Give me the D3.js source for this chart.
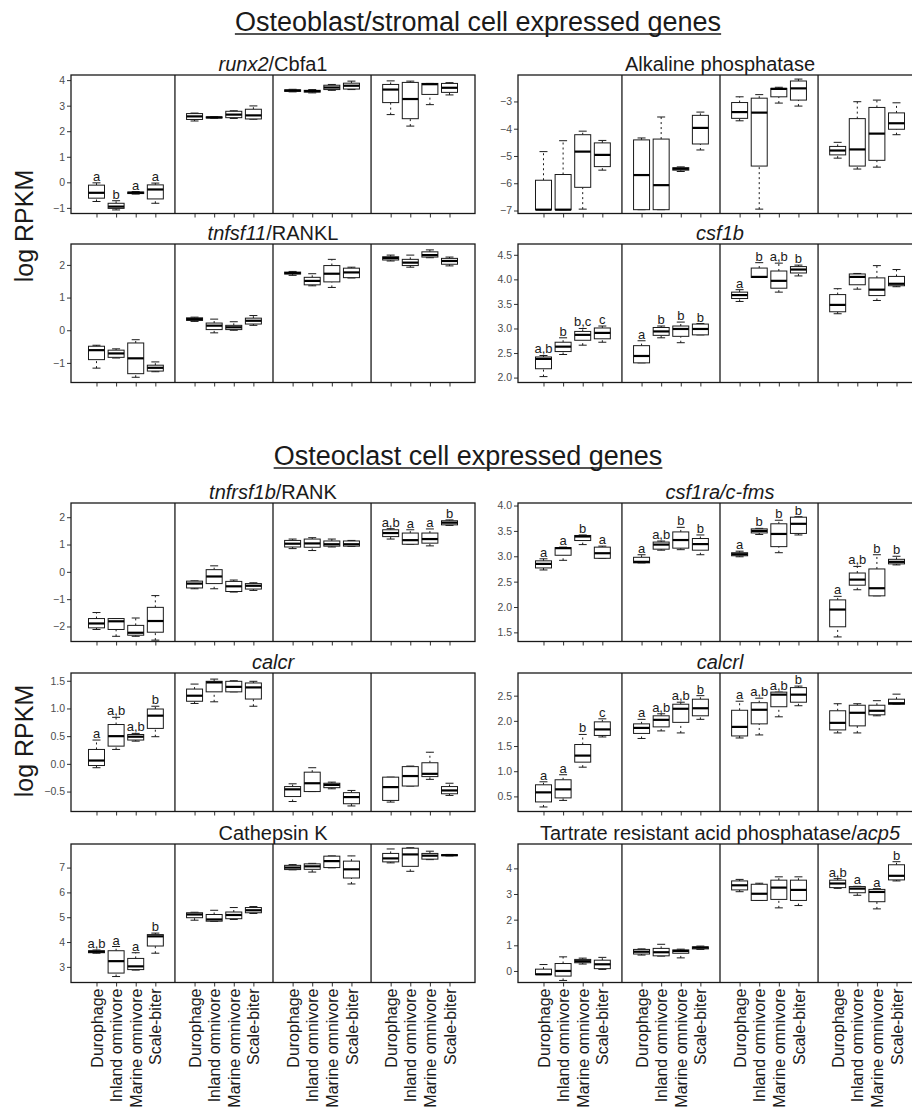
<!DOCTYPE html>
<html>
<head>
<meta charset="utf-8">
<script src="https://cdn.jsdelivr.net/npm/d3@7"></script>
<style>
  body { margin: 0; background: #fff; }
  svg { font-family: "Liberation Sans", Arial, Helvetica, sans-serif; }
</style>
</head>
<body>
<svg id="chart" width="912" height="1110"></svg>
<script>
// groups on the x axis, repeated in each of the 4 facets
const groups = ["Durophage", "Inland omnivore", "Marine omnivore", "Scale-biter"];

// each box: [lower whisker, q1, median, q3, upper whisker], 4 facets x 4 groups
const runx2 = [
  [-0.75, -0.62, -0.41, -0.11, -0.02], [-1.08, -1.02, -0.95, -0.82, -0.72], [-0.46, -0.44, -0.41, -0.38, -0.36], [-0.82, -0.65, -0.28, -0.10, -0.03],
  [2.40, 2.46, 2.58, 2.69, 2.71], [2.51, 2.52, 2.54, 2.56, 2.57], [2.50, 2.53, 2.65, 2.78, 2.80], [2.47, 2.48, 2.62, 2.86, 2.99],
  [3.54, 3.56, 3.59, 3.62, 3.64], [3.50, 3.53, 3.57, 3.60, 3.63], [3.60, 3.63, 3.71, 3.80, 3.83], [3.63, 3.65, 3.78, 3.88, 3.96],
  [2.65, 3.12, 3.63, 3.83, 3.97], [2.20, 2.49, 3.26, 3.91, 3.96], [3.04, 3.44, 3.84, 3.87, 3.87], [3.42, 3.52, 3.70, 3.87, 3.90]
];
const runx2Letters = ["a", "b", "a", "a", "", "", "", "", "", "", "", "", "", "", "", ""];

const alp = [
  [-6.97, -6.97, -6.97, -5.89, -4.84], [-6.97, -6.97, -6.97, -5.68, -4.44], [-6.95, -6.15, -4.84, -4.22, -4.09], [-5.52, -5.39, -4.96, -4.52, -4.43],
  [-6.97, -6.97, -5.70, -4.41, -4.34], [-6.97, -6.97, -6.07, -4.38, -3.57], [-5.57, -5.52, -5.47, -5.43, -5.40], [-4.78, -4.56, -3.97, -3.51, -3.39],
  [-3.71, -3.62, -3.39, -3.04, -2.83], [-6.95, -5.37, -3.41, -2.88, -2.75], [-3.06, -2.83, -2.54, -2.52, -2.48], [-3.17, -2.95, -2.52, -2.25, -2.18],
  [-5.08, -4.96, -4.80, -4.65, -4.50], [-5.48, -5.37, -4.76, -3.63, -3.01], [-5.41, -5.16, -4.18, -3.22, -2.95], [-4.22, -4.02, -3.80, -3.42, -3.05]
];
const alpLetters = ["", "", "", "", "", "", "", "", "", "", "", "", "", "", "", ""];

const tnfsf11 = [
  [-1.16, -0.90, -0.61, -0.49, -0.46], [-0.85, -0.83, -0.71, -0.61, -0.57], [-1.44, -1.33, -0.86, -0.39, -0.29], [-1.27, -1.25, -1.15, -1.07, -0.97],
  [0.27, 0.30, 0.34, 0.38, 0.40], [-0.08, 0.02, 0.14, 0.22, 0.34], [0.00, 0.02, 0.09, 0.15, 0.26], [0.15, 0.19, 0.29, 0.37, 0.45],
  [1.68, 1.72, 1.75, 1.78, 1.80], [1.36, 1.39, 1.51, 1.62, 1.73], [1.31, 1.48, 1.73, 1.98, 2.17], [1.60, 1.61, 1.77, 1.90, 1.93],
  [2.12, 2.15, 2.21, 2.25, 2.30], [1.93, 1.98, 2.07, 2.17, 2.30], [2.22, 2.24, 2.30, 2.40, 2.46], [1.97, 2.02, 2.12, 2.20, 2.24]
];
const tnfsf11Letters = ["", "", "", "", "", "", "", "", "", "", "", "", "", "", "", ""];

const csf1b = [
  [2.02, 2.18, 2.38, 2.42, 2.45], [2.47, 2.53, 2.63, 2.72, 2.81], [2.66, 2.76, 2.87, 2.94, 3.00], [2.72, 2.79, 2.91, 3.01, 3.05],
  [2.30, 2.30, 2.44, 2.65, 2.75], [2.81, 2.86, 2.94, 3.02, 3.05], [2.71, 2.84, 2.99, 3.05, 3.13], [2.87, 2.87, 2.99, 3.09, 3.10],
  [3.55, 3.61, 3.68, 3.74, 3.79], [4.04, 4.04, 4.05, 4.23, 4.34], [3.74, 3.82, 3.97, 4.17, 4.33], [4.07, 4.13, 4.20, 4.26, 4.29],
  [3.30, 3.34, 3.48, 3.69, 3.81], [3.80, 3.89, 4.05, 4.11, 4.12], [3.57, 3.67, 3.79, 4.03, 4.28], [3.85, 3.87, 3.91, 4.06, 4.20]
];
const csf1bLetters = ["a,b", "b", "b,c", "c", "a", "b", "b", "b", "a", "b", "a,b", "b", "", "", "", ""];

const tnfrsf1b = [
  [-2.11, -2.05, -1.89, -1.71, -1.49], [-2.36, -2.11, -1.81, -1.71, -1.71], [-2.36, -2.32, -2.23, -1.96, -1.69], [-2.50, -2.21, -1.80, -1.30, -0.87],
  [-0.62, -0.59, -0.43, -0.34, -0.33], [-0.62, -0.43, -0.17, 0.08, 0.22], [-0.74, -0.72, -0.53, -0.35, -0.30], [-0.68, -0.63, -0.51, -0.43, -0.40],
  [0.85, 0.91, 1.03, 1.15, 1.20], [0.78, 0.90, 1.04, 1.20, 1.25], [0.91, 0.94, 1.01, 1.13, 1.20], [0.93, 0.94, 1.01, 1.13, 1.15],
  [1.20, 1.29, 1.42, 1.54, 1.58], [1.01, 1.01, 1.16, 1.42, 1.54], [0.95, 1.05, 1.20, 1.42, 1.57], [1.70, 1.72, 1.80, 1.87, 1.90]
];
const tnfrsf1bLetters = ["", "", "", "", "", "", "", "", "", "", "", "", "a,b", "a", "a", "b"];

const csf1ra = [
  [2.73, 2.77, 2.85, 2.91, 2.95], [2.92, 3.02, 3.16, 3.17, 3.18], [3.23, 3.31, 3.39, 3.41, 3.42], [2.96, 2.96, 3.06, 3.18, 3.20],
  [2.87, 2.87, 2.89, 2.98, 3.03], [3.12, 3.14, 3.23, 3.28, 3.30], [3.13, 3.16, 3.32, 3.48, 3.57], [3.03, 3.12, 3.24, 3.35, 3.42],
  [2.99, 3.01, 3.04, 3.07, 3.10], [3.43, 3.46, 3.50, 3.54, 3.55], [3.07, 3.19, 3.44, 3.64, 3.71], [3.42, 3.45, 3.64, 3.77, 3.78],
  [1.41, 1.61, 1.95, 2.14, 2.21], [2.34, 2.43, 2.54, 2.67, 2.80], [2.22, 2.22, 2.37, 2.75, 3.03], [2.83, 2.85, 2.89, 2.94, 3.00]
];
const csf1raLetters = ["a", "a", "b", "a", "a", "a,b", "b", "b", "a", "b", "b", "b", "a", "a,b", "b", "b"];

const calcr = [
  [-0.07, -0.03, 0.06, 0.26, 0.43], [0.26, 0.32, 0.50, 0.71, 0.84], [0.41, 0.43, 0.49, 0.53, 0.55], [0.49, 0.64, 0.87, 0.99, 1.04],
  [1.09, 1.13, 1.23, 1.35, 1.44], [1.12, 1.30, 1.47, 1.49, 1.53], [1.30, 1.30, 1.39, 1.49, 1.50], [1.04, 1.17, 1.38, 1.46, 1.49],
  [-0.68, -0.59, -0.46, -0.41, -0.36], [-0.50, -0.50, -0.35, -0.15, -0.07], [-0.45, -0.43, -0.38, -0.35, -0.33], [-0.76, -0.72, -0.60, -0.52, -0.48],
  [-0.69, -0.66, -0.42, -0.24, -0.24], [-0.40, -0.40, -0.22, -0.05, -0.04], [-0.28, -0.23, -0.18, 0.02, 0.21], [-0.57, -0.54, -0.48, -0.41, -0.35]
];
const calcrLetters = ["a", "a,b", "a,b", "b", "", "", "", "", "", "", "", "", "", "", "", ""];

const calcrl = [
  [0.29, 0.39, 0.58, 0.73, 0.79], [0.42, 0.47, 0.64, 0.83, 0.93], [1.08, 1.18, 1.31, 1.53, 1.73], [1.68, 1.71, 1.83, 1.98, 2.04],
  [1.65, 1.75, 1.86, 1.94, 2.03], [1.80, 1.88, 2.02, 2.10, 2.14], [1.76, 1.97, 2.24, 2.33, 2.37], [2.03, 2.10, 2.25, 2.43, 2.50],
  [1.66, 1.70, 1.88, 2.21, 2.39], [1.72, 1.94, 2.22, 2.36, 2.45], [2.08, 2.28, 2.52, 2.57, 2.57], [2.30, 2.37, 2.52, 2.66, 2.69],
  [1.76, 1.82, 1.96, 2.20, 2.34], [1.76, 1.90, 2.16, 2.31, 2.34], [2.10, 2.12, 2.20, 2.31, 2.40], [2.33, 2.33, 2.35, 2.43, 2.53]
];
const calcrlLetters = ["a", "a", "b", "c", "a", "a,b", "a,b", "b", "a", "a,b", "a,b", "b", "", "", "", ""];

const cathK = [
  [3.55, 3.57, 3.61, 3.65, 3.68], [2.61, 2.75, 3.23, 3.65, 3.82], [2.87, 2.89, 3.02, 3.34, 3.57], [3.55, 3.84, 4.23, 4.30, 4.36],
  [4.88, 4.98, 5.11, 5.18, 5.20], [4.83, 4.84, 4.91, 5.11, 5.28], [4.91, 4.94, 5.09, 5.21, 5.39], [5.15, 5.18, 5.28, 5.39, 5.43],
  [6.91, 6.92, 7.00, 7.09, 7.12], [6.82, 6.93, 7.05, 7.15, 7.17], [6.99, 7.00, 7.26, 7.46, 7.47], [6.34, 6.58, 6.93, 7.26, 7.47],
  [7.19, 7.23, 7.37, 7.57, 7.75], [6.85, 7.05, 7.53, 7.78, 7.80], [7.32, 7.34, 7.48, 7.57, 7.66], [7.47, 7.48, 7.50, 7.52, 7.53]
];
const cathKLetters = ["a,b", "a", "a", "b", "", "", "", "", "", "", "", "", "", "", "", ""];

const trap = [
  [-0.14, -0.14, -0.13, 0.07, 0.25], [-0.37, -0.20, 0.00, 0.29, 0.55], [0.27, 0.32, 0.38, 0.45, 0.50], [0.06, 0.09, 0.26, 0.42, 0.53],
  [0.62, 0.66, 0.75, 0.84, 0.86], [0.58, 0.59, 0.73, 0.88, 1.04], [0.51, 0.69, 0.78, 0.82, 0.85], [0.84, 0.86, 0.91, 0.94, 0.97],
  [3.09, 3.16, 3.34, 3.51, 3.57], [2.75, 2.75, 3.01, 3.38, 3.42], [2.46, 2.79, 3.25, 3.54, 3.67], [2.55, 2.75, 3.16, 3.54, 3.67],
  [3.22, 3.25, 3.41, 3.54, 3.60], [2.95, 3.05, 3.21, 3.29, 3.30], [2.42, 2.70, 3.08, 3.18, 3.21], [3.51, 3.55, 3.71, 4.14, 4.26]
];
const trapLetters = ["", "", "", "", "", "", "", "", "", "", "", "", "a,b", "a", "a", "b"];

// y tick labels for each panel
const runx2Ticks = [-1, 0, 1, 2, 3, 4];
const alpTicks = [-7, -6, -5, -4, -3];
const tnfsf11Ticks = [-1, 0, 1, 2];
const csf1bTicks = [2.0, 2.5, 3.0, 3.5, 4.0, 4.5];
const tnfrsf1bTicks = [-2, -1, 0, 1, 2];
const csf1raTicks = [1.5, 2.0, 2.5, 3.0, 3.5, 4.0];
const calcrTicks = [-0.5, 0.0, 0.5, 1.0, 1.5];
const calcrlTicks = [0.5, 1.0, 1.5, 2.0, 2.5];
const cathKTicks = [3, 4, 5, 6, 7];
const trapTicks = [0, 1, 2, 3, 4];

const panels = [
  { title: [["runx2", true], ["/Cbfa1", false]], data: runx2, letters: runx2Letters, ticks: runx2Ticks, domain: [-1.22, 4.2], row: 0, col: 0 },
  { title: [["Alkaline phosphatase", false]], data: alp, letters: alpLetters, ticks: alpTicks, domain: [-7.11, -2.03], row: 0, col: 1 },
  { title: [["tnfsf11", true], ["/RANKL", false]], data: tnfsf11, letters: tnfsf11Letters, ticks: tnfsf11Ticks, domain: [-1.6, 2.64], row: 1, col: 0 },
  { title: [["csf1b", true]], data: csf1b, letters: csf1bLetters, ticks: csf1bTicks, domain: [1.9, 4.72], row: 1, col: 1 },
  { title: [["tnfrsf1b", true], ["/RANK", false]], data: tnfrsf1b, letters: tnfrsf1bLetters, ticks: tnfrsf1bTicks, domain: [-2.55, 2.52], row: 2, col: 0 },
  { title: [["csf1ra/c-fms", true]], data: csf1ra, letters: csf1raLetters, ticks: csf1raTicks, domain: [1.32, 4.05], row: 2, col: 1 },
  { title: [["calcr", true]], data: calcr, letters: calcrLetters, ticks: calcrTicks, domain: [-0.86, 1.64], row: 3, col: 0 },
  { title: [["calcrl", true]], data: calcrl, letters: calcrlLetters, ticks: calcrlTicks, domain: [0.2, 2.95], row: 3, col: 1 },
  { title: [["Cathepsin K", false]], data: cathK, letters: cathKLetters, ticks: cathKTicks, domain: [2.37, 7.95], row: 4, col: 0 },
  { title: [["Tartrate resistant acid phosphatase/", false], ["acp5", true]], data: trap, letters: trapLetters, ticks: trapTicks, domain: [-0.45, 4.95], row: 4, col: 1 }
];

// layout
const rowTop = [75, 244, 503, 673, 844];
const colLeft = [71, 518];
const panelW = 404;
const panelH = 138.5;
const boxW = 16;
const ink = "#1a1a1a";

const svg = d3.select("#chart");

// position index: facet f, group g -> 5f + g (one empty slot between facets)
const xIdx = d3.scaleLinear().domain([-1.3, 19.3]).range([0, panelW]);
const tickIdx = d3.range(16).map(i => 5 * Math.floor(i / 4) + (i % 4));

// section titles
const sections = [
  { text: "Osteoblast/stromal cell expressed genes", x: 478, y: 31 },
  { text: "Osteoclast cell expressed genes", x: 468, y: 465 }
];
sections.forEach(s => {
  const t = svg.append("text")
    .attr("x", s.x).attr("y", s.y)
    .attr("text-anchor", "middle")
    .attr("font-size", 27)
    .attr("fill", ink)
    .text(s.text);
  const w = t.node().getComputedTextLength();
  svg.append("line")
    .attr("x1", s.x - w / 2).attr("x2", s.x + w / 2)
    .attr("y1", s.y + 3).attr("y2", s.y + 3)
    .attr("stroke", ink).attr("stroke-width", 1.3);
});

// y axis labels
[226, 741].forEach(cy => {
  svg.append("text")
    .attr("transform", `translate(33,${cy}) rotate(-90)`)
    .attr("text-anchor", "middle")
    .attr("font-size", 25)
    .attr("fill", ink)
    .text("log RPKM");
});

const fmtInt = d3.format("d");
const fmtDec = d3.format(".1f");

panels.forEach(p => {
  const x0 = colLeft[p.col];
  const y0 = rowTop[p.row];
  const g = svg.append("g").attr("transform", `translate(${x0},${y0})`);
  const y = d3.scaleLinear().domain(p.domain).range([panelH, 0]);
  const decimal = p.ticks.some(t => !Number.isInteger(t));

  // title
  const title = g.append("text")
    .attr("x", panelW / 2).attr("y", -4)
    .attr("text-anchor", "middle")
    .attr("font-size", 20)
    .attr("fill", ink);
  p.title.forEach(([txt, it]) => {
    title.append("tspan").attr("font-style", it ? "italic" : "normal").text(txt);
  });

  // y axis
  const yAxis = g.append("g")
    .call(d3.axisLeft(y).tickValues(p.ticks).tickSize(4).tickPadding(2)
      .tickFormat(decimal ? fmtDec : fmtInt));
  yAxis.select(".domain").remove();
  yAxis.selectAll("line").attr("stroke", "#333");
  yAxis.selectAll("text").attr("font-size", 10.5).attr("fill", "#4d4d4d")
    .attr("font-family", "Liberation Sans, Arial, sans-serif");

  // x axis
  const xAxis = g.append("g")
    .attr("transform", `translate(0,${panelH})`)
    .call(d3.axisBottom(xIdx).tickValues(tickIdx).tickSize(4)
      .tickFormat(i => groups[i % 5]));
  xAxis.select(".domain").remove();
  xAxis.selectAll("line").attr("stroke", "#333");
  if (p.row === 4) {
    xAxis.selectAll("text")
      .attr("transform", "rotate(-90)")
      .attr("text-anchor", "end")
      .attr("x", -6).attr("y", 0).attr("dy", "0.35em")
      .attr("font-size", 16).attr("fill", ink)
      .attr("font-family", "Liberation Sans, Arial, sans-serif");
  } else {
    xAxis.selectAll("text").remove();
  }

  // boxes
  const boxes = g.selectAll(".box").data(p.data).join("g")
    .attr("class", "box")
    .attr("transform", (d, i) => `translate(${xIdx(tickIdx[i])},0)`);

  // whiskers (dashed)
  boxes.append("line")
    .attr("y1", d => y(d[3])).attr("y2", d => y(d[4]))
    .attr("stroke", ink).attr("stroke-width", 1).attr("stroke-dasharray", "2,3");
  boxes.append("line")
    .attr("y1", d => y(d[0])).attr("y2", d => y(d[1]))
    .attr("stroke", ink).attr("stroke-width", 1).attr("stroke-dasharray", "2,3");
  // caps
  [0, 4].forEach(k => {
    boxes.append("line")
      .attr("x1", -boxW / 4).attr("x2", boxW / 4)
      .attr("y1", d => y(d[k])).attr("y2", d => y(d[k]))
      .attr("stroke", ink).attr("stroke-width", 1);
  });
  // box
  boxes.append("rect")
    .attr("x", -boxW / 2).attr("width", boxW)
    .attr("y", d => y(d[3]))
    .attr("height", d => Math.max(0.5, y(d[1]) - y(d[3])))
    .attr("fill", "#fff").attr("stroke", ink).attr("stroke-width", 1);
  // median
  boxes.append("line")
    .attr("x1", -boxW / 2).attr("x2", boxW / 2)
    .attr("y1", d => y(d[2])).attr("y2", d => y(d[2]))
    .attr("stroke", "#000").attr("stroke-width", 2.2);

  // significance letters
  g.selectAll(".letter").data(p.data.map((d, i) => ({ d, t: p.letters[i], i })).filter(o => o.t))
    .join("text")
    .attr("class", "letter")
    .attr("x", o => xIdx(tickIdx[o.i]))
    .attr("y", o => y(o.d[4]) - 2)
    .attr("text-anchor", "middle")
    .attr("font-size", 13)
    .attr("fill", ink)
    .text(o => o.t);

  // facet dividers and border
  [4, 9, 14].forEach(k => {
    g.append("line")
      .attr("x1", xIdx(k)).attr("x2", xIdx(k))
      .attr("y1", 0).attr("y2", panelH)
      .attr("stroke", ink).attr("stroke-width", 1.3);
  });
  g.append("rect")
    .attr("width", panelW).attr("height", panelH)
    .attr("fill", "none").attr("stroke", ink).attr("stroke-width", 1.3);
});
</script>
</body>
</html>
